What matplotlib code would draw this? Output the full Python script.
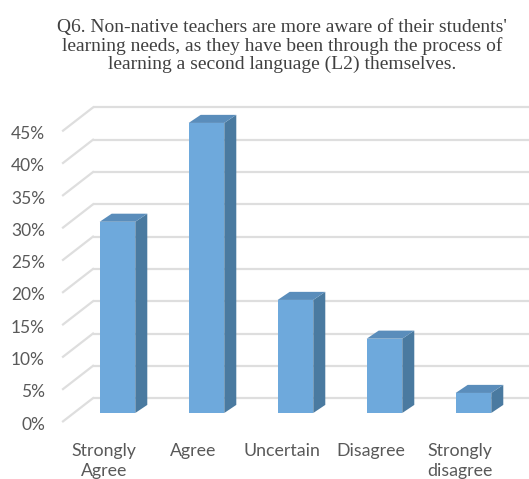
import numpy as np
import matplotlib.pyplot as plt

categories = ["Strongly\nAgree", "Agree", "Uncertain", "Disagree", "Strongly\ndisagree"]
values = [29.6, 44.9, 17.5, 11.5, 3.1]
ticks = [0, 5, 10, 15, 20, 25, 30, 35, 40, 45]
tick_labels = [f"{t}%" for t in ticks]
title = ("Q6. Non-native teachers are more aware of their students'\n"
         "learning needs, as they have been through the process of\n"
         "learning a second language (L2) themselves.")

# pseudo-3D geometry, in data units (x = category, y = percent)
BAR_W = 0.40
DEPTH_X = 0.135
DEPTH_Y = 1.25
WALL_X = -0.275
WALL_DY = 2.3
FLOOR_X = -0.612
FLOOR_DY = -1.3

FRONT = "#6ea9dc"
SIDE = "#4a7aa0"
TOP = "#5a8dbb"
GRID = "#dedede"
TEXT = "#595959"


def main():
    fig = plt.figure(figsize=(5.29, 4.79), dpi=100)
    ax = fig.add_axes([0, 0, 1, 1])
    ax.set_xlim(-1.320, 4.624)
    ax.set_ylim(-10.22, 63.93)
    ax.axis("off")

    # back wall grid and floor diagonals
    for t, lab in zip(ticks, tick_labels):
        ax.plot([WALL_X, 4.7], [t + WALL_DY, t + WALL_DY],
                color=GRID, lw=1.6, zorder=1, solid_capstyle="butt")
        ax.plot([FLOOR_X, WALL_X], [t + FLOOR_DY, t + WALL_DY],
                color=GRID, lw=1.6, zorder=1)
        ax.text(-0.815, t - 1.8, lab, ha="right", va="center",
                fontsize=12.5, color=TEXT, family="Lato")

    x = np.arange(len(categories))
    ax.bar(x, values, width=BAR_W, color=FRONT, zorder=3)
    for xi, v in zip(x, values):
        l, r = xi - BAR_W / 2, xi + BAR_W / 2
        ax.fill([r, r + DEPTH_X, r + DEPTH_X, r],
                [0, DEPTH_Y, v + DEPTH_Y, v], color=SIDE, zorder=2, lw=0)
        ax.fill([l, r, r + DEPTH_X, l + DEPTH_X],
                [v, v, v + DEPTH_Y, v + DEPTH_Y], color=TOP, zorder=2, lw=0)

    for xi, cat in zip(x, categories):
        ax.text(xi - 0.15, -4.6, cat, ha="center", va="top",
                fontsize=12.8, color=TEXT, family="Lato", linespacing=1.3)

    fig.text(0.533, 0.904, title, ha="center", va="center", fontsize=14,
             color="#404040", family="Liberation Serif", linespacing=1.04)

    fig.savefig("out.png", dpi=100)
    plt.close(fig)


if __name__ == "__main__":
    main()
